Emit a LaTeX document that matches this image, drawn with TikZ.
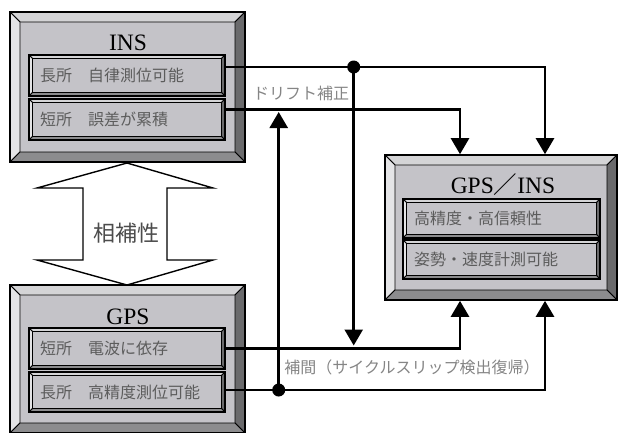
\documentclass[tikz,border=0pt]{standalone}
\usepackage{fontspec}
\setmainfont{Liberation Serif}
\newfontfamily\jpfont{Noto Sans CJK JP}
\usepackage{xcolor}
\usetikzlibrary{arrows.meta, calc}

\definecolor{face}{HTML}{C4C3C8}
\definecolor{bvtop}{HTML}{D4D4D6}
\definecolor{bvleft}{HTML}{E4E4E6}
\definecolor{bvright}{HTML}{6A6A6C}
\definecolor{bvbot}{HTML}{8C8C8E}
\definecolor{subtext}{HTML}{5C5C5C}
\definecolor{notetext}{HTML}{858585}

% raised frame: light top/left, dark right/bottom
\tikzset{
  bevel/.style={path picture={
    \filldraw[bvtop, draw=black, line width=0.8pt] (path picture bounding box.north west) -- (path picture bounding box.north east) -- ([shift={(-#1,-#1)}]path picture bounding box.north east) -- ([shift={(#1,-#1)}]path picture bounding box.north west) -- cycle;
    \filldraw[bvleft, draw=black, line width=0.8pt] (path picture bounding box.north west) -- (path picture bounding box.south west) -- ([shift={(#1,#1)}]path picture bounding box.south west) -- ([shift={(#1,-#1)}]path picture bounding box.north west) -- cycle;
    \filldraw[bvright, draw=black, line width=0.8pt] (path picture bounding box.north east) -- (path picture bounding box.south east) -- ([shift={(-#1,#1)}]path picture bounding box.south east) -- ([shift={(-#1,-#1)}]path picture bounding box.north east) -- cycle;
    \filldraw[bvbot, draw=black, line width=0.8pt] (path picture bounding box.south west) -- (path picture bounding box.south east) -- ([shift={(-#1,#1)}]path picture bounding box.south east) -- ([shift={(#1,#1)}]path picture bounding box.south west) -- cycle;
  }},
  mainbox/.style={draw, line width=1.6pt, fill=face, inner sep=0pt, bevel=10pt},
  subbox/.style={draw, line width=1.4pt, fill=face, bevel=3.5pt, minimum width=196pt,
    minimum height=41pt, inner xsep=11pt, inner ysep=0pt, text width=174pt, align=left,
    font=\jpfont\fontsize{16}{18}\selectfont, text=subtext},
  title/.style={anchor=base, inner sep=0pt, font=\fontsize{23.5}{26}\selectfont},
  note/.style={inner sep=0pt, text=notetext, font=\jpfont\fontsize{16}{18}\selectfont},
  link/.style={line width=2.6pt, -{Triangle[width=18pt,length=16pt]}}
}

\begin{document}
\begin{tikzpicture}[x=1pt, y=-1pt]
\useasboundingbox (0,0) rectangle (618,432);

% complementarity arrow
\draw[line width=1.4pt, fill=white] (127,163) -- (213,188) -- (167,188) -- (167,260)
  -- (213,260) -- (127,285) -- (37,260) -- (83,260) -- (83,188) -- (37,188) -- cycle;
\node[text=black!70, font=\jpfont\fontsize{22}{24}\selectfont] (comp) at (126,233) {相補性};

% INS
\node[mainbox, minimum width=235pt, minimum height=150pt] (ins) at (127.5,87) {};
\node[title] (inst) at (128,50) {INS};
\node[subbox] (inslong) at (127,75.5) {長所　自律測位可能};
\node[subbox] (insshort) at (127,119.5) {短所　誤差が累積};

% GPS
\node[mainbox, minimum width=235pt, minimum height=148pt] (gps) at (127.5,359) {};
\node[title] (gpst) at (128,324) {GPS};
\node[subbox] (gpsshort) at (127,348.5) {短所　電波に依存};
\node[subbox, minimum height=40pt] (gpslong) at (127,392) {長所　高精度測位可能};

% GPS/INS
\node[mainbox, minimum width=232pt, minimum height=145pt] (fus) at (501,227.5) {};
\node[title] (fust) at (503,193) {GPS{\jpfont ／}INS};
\node[subbox, minimum width=197pt, text width=175pt, minimum height=39pt] (fushigh) at (501.5,218.5) {高精度・高信頼性};
\node[subbox, minimum width=197pt, text width=175pt, minimum height=39pt] (fusatt) at (501.5,259.5) {姿勢・速度計測可能};

% line ends
\coordinate (il) at ([yshift=8.5pt]inslong.east);
\coordinate (is) at ([yshift=10pt]insshort.east);
\coordinate (gs) at (gpsshort.east);
\coordinate (gl) at ([yshift=2pt]gpslong.east);
\path (il) ++(128,0) coordinate (j1);
\path (gl) ++(53,0) coordinate (j2);

\draw[link] (il) -| ([xshift=44pt]fus.north);
\draw[link] (is) -| ([xshift=-41pt]fus.north);
\draw[link] (gs) -| ([xshift=-41pt]fus.south);
\draw[link] (gl) -| ([xshift=44pt]fus.south);
\draw[link] (j1) -- ($(j1 |- gs)+(0,-3)$);
\draw[link] (j2) -- ($(j2 |- is)+(0,2.5)$);
\fill (j1) circle (6.5pt);
\fill (j2) circle (6.5pt);

\node[note] (drift) at (301,93) {ドリフト補正};
\node[note] (hokan) at (412,367) {補間（サイクルスリップ検出復帰）};
\end{tikzpicture}
\end{document}
